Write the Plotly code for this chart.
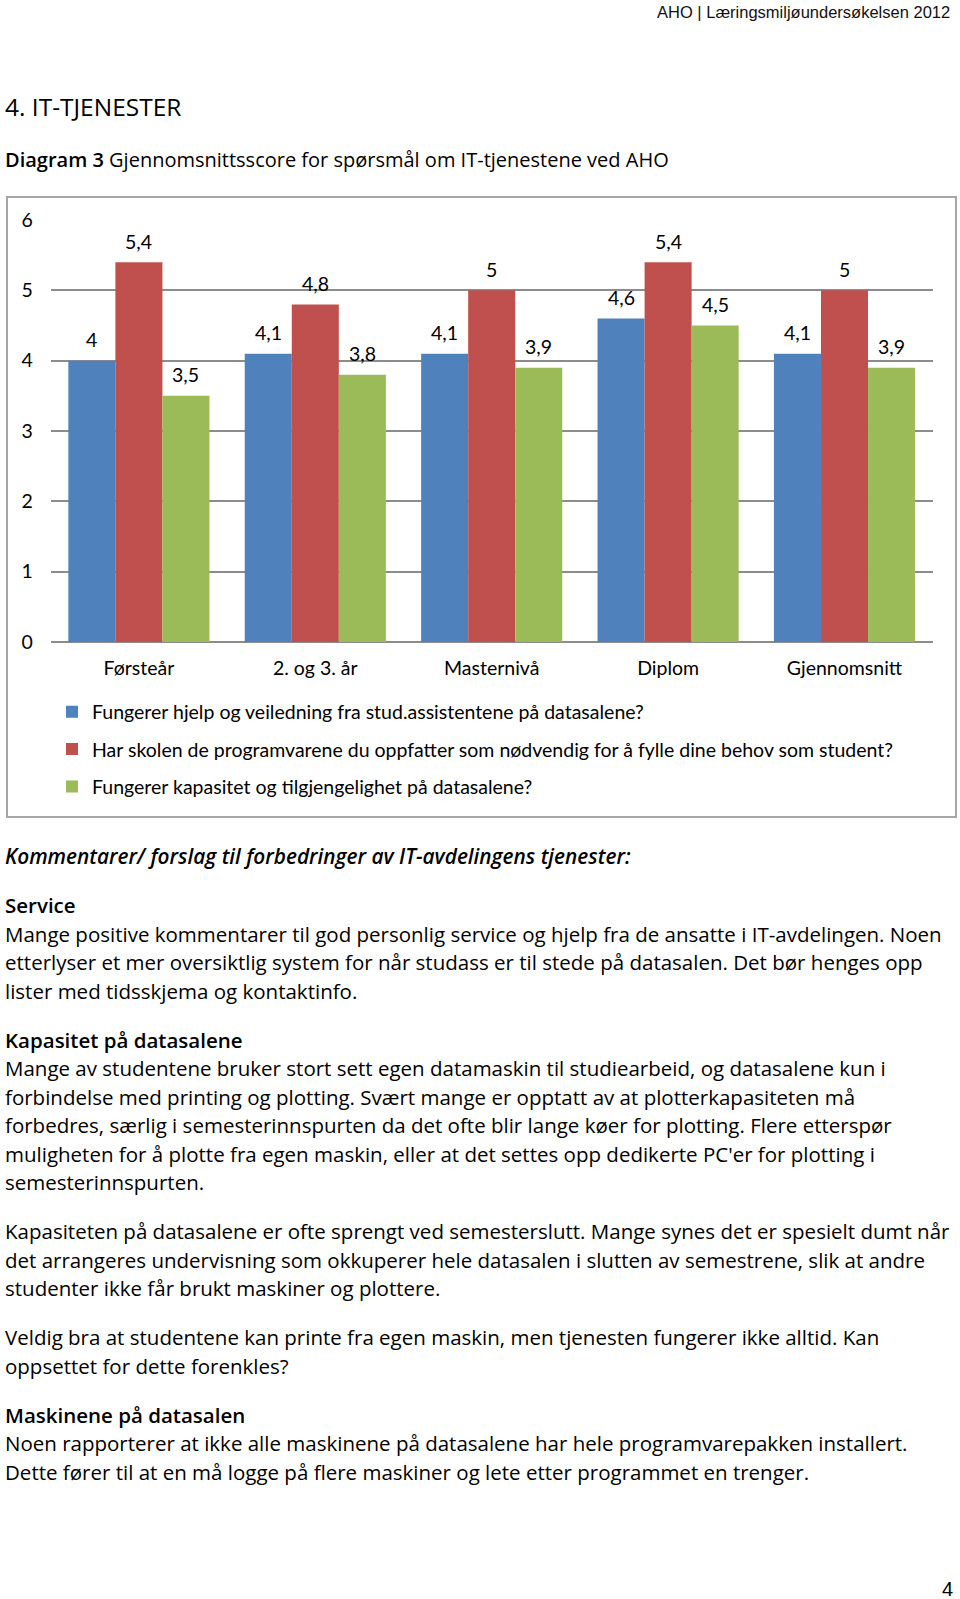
import plotly.graph_objects as go

W, H = 960, 1599

categories = ["Førsteår", "2. og 3. år", "Masternivå", "Diplom", "Gjennomsnitt"]
series_names = [
    "Fungerer hjelp og veiledning fra stud.assistentene på datasalene?",
    "Har skolen de programvarene du oppfatter som nødvendig for å fylle dine behov som student?",
    "Fungerer kapasitet og tilgjengelighet på datasalene?",
]
hjelp_values = [4.0, 4.1, 4.1, 4.6, 4.1]
programvare_values = [5.4, 4.8, 5.0, 5.4, 5.0]
kapasitet_values = [3.5, 3.8, 3.9, 4.5, 3.9]
y_ticks = [0, 1, 2, 3, 4, 5, 6]

header_text = "AHO | Læringsmiljøundersøkelsen 2012"
section_title = "4. IT-TJENESTER"
diagram_label = "<span style='font-weight:600'>Diagram 3</span> Gjennomsnittsscore for spørsmål om IT-tjenestene ved AHO"
comments_title = "Kommentarer/ forslag til forbedringer av IT-avdelingens tjenester:"
page_number = "4"

body_blocks = [
    ("h", "Service"),
    ("p", "Mange positive kommentarer til god personlig service og hjelp fra de ansatte i IT-avdelingen. Noen"),
    ("p", "etterlyser et mer oversiktlig system for når studass er til stede på datasalen. Det bør henges opp"),
    ("p", "lister med tidsskjema og kontaktinfo."),
    ("gap", ""),
    ("h", "Kapasitet på datasalene"),
    ("p", "Mange av studentene bruker stort sett egen datamaskin til studiearbeid, og datasalene kun i"),
    ("p", "forbindelse med printing og plotting. Svært mange er opptatt av at plotterkapasiteten må"),
    ("p", "forbedres, særlig i semesterinnspurten da det ofte blir lange køer for plotting. Flere etterspør"),
    ("p", "muligheten for å plotte fra egen maskin, eller at det settes opp dedikerte PC'er for plotting i"),
    ("p", "semesterinnspurten."),
    ("gap", ""),
    ("p", "Kapasiteten på datasalene er ofte sprengt ved semesterslutt. Mange synes det er spesielt dumt når"),
    ("p", "det arrangeres undervisning som okkuperer hele datasalen i slutten av semestrene, slik at andre"),
    ("p", "studenter ikke får brukt maskiner og plottere."),
    ("gap", ""),
    ("p", "Veldig bra at studentene kan printe fra egen maskin, men tjenesten fungerer ikke alltid. Kan"),
    ("p", "oppsettet for dette forenkles?"),
    ("gap", ""),
    ("h", "Maskinene på datasalen"),
    ("p", "Noen rapporterer at ikke alle maskinene på datasalene har hele programvarepakken installert."),
    ("p", "Dette fører til at en må logge på flere maskiner og lete etter programmet en trenger."),
]

colors = ["#4F81BD", "#C0504D", "#9BBB59"]
chart_font = "Lato"
body_font = "Open Sans"
chart_size = 19.5
body_size = 20.5


def px(x):
    return x / W


def py(y):
    return 1 - y / H


def fmt(v):
    s = f"{v:.1f}".replace(".", ",")
    return s[:-2] if s.endswith(",0") else s


fig = go.Figure()
all_values = [hjelp_values, programvare_values, kapasitet_values]
for name, vals, col in zip(series_names, all_values, colors):
    fig.add_trace(go.Bar(
        x=categories, y=vals, name=name, marker=dict(color=col, line=dict(width=0)),
        legendgroup=name, hoverinfo="skip",
    ))

annotations = []
bar_px = 47
for i, vals in enumerate(all_values):
    for c, v in zip(categories, vals):
        annotations.append(dict(
            x=c, y=v, xref="x", yref="y", text=fmt(v), showarrow=False,
            xshift=(i - 1) * bar_px, yshift=21, yanchor="middle",
            font=dict(family=chart_font, size=chart_size, color="#000"),
        ))

annotations.append(dict(x=px(952), y=py(12), xref="paper", yref="paper", text=header_text,
                        xanchor="right", yanchor="middle", showarrow=False,
                        font=dict(family="Liberation Sans", size=16.5, color="#111")))
annotations.append(dict(x=px(3), y=py(107), xref="paper", yref="paper", text=section_title,
                        xanchor="left", yanchor="middle", showarrow=False,
                        font=dict(family=body_font, size=24.5, color="#000")))
annotations.append(dict(x=px(3), y=py(160), xref="paper", yref="paper", text=diagram_label,
                        xanchor="left", yanchor="middle", showarrow=False,
                        font=dict(family=body_font, size=20, color="#000")))
annotations.append(dict(x=px(3), y=py(856), xref="paper", yref="paper", text="<i>" + comments_title + "</i>",
                        xanchor="left", yanchor="middle", showarrow=False,
                        font=dict(family=body_font, size=20.8, color="#000", weight=600)))
annotations.append(dict(x=px(955), y=py(1589), xref="paper", yref="paper", text=page_number,
                        xanchor="right", yanchor="middle", showarrow=False,
                        font=dict(family="Liberation Sans", size=20, color="#000")))

y = 905.0
line_h = 28.5
for kind, txt in body_blocks:
    if kind == "gap":
        y += 20.5
        continue
    if kind == "p" and y < 935:
        y = 933.5
    annotations.append(dict(x=px(3), y=py(y), xref="paper", yref="paper", text=txt,
                            xanchor="left", yanchor="middle", showarrow=False,
                            font=dict(family=body_font, size=body_size, color="#000",
                                      weight=600 if kind == "h" else 400)))
    y += line_h

fig.update_layout(
    width=W, height=H,
    margin=dict(l=0, r=0, t=0, b=0, autoexpand=False),
    paper_bgcolor="white", plot_bgcolor="white",
    barmode="group", bargap=0.2, bargroupgap=0,
    font=dict(family=chart_font, size=chart_size, color="#000"),
    xaxis=dict(domain=[px(50.7), px(932.7)], showgrid=False, showline=False, ticks="",
               automargin=False,
               tickfont=dict(family=chart_font, size=chart_size), ticklabelstandoff=12, fixedrange=True),
    yaxis=dict(domain=[py(642), py(220)], range=[0, 6], tickvals=y_ticks, showgrid=True,
               automargin=False,
               gridcolor="#8C8C8C", gridwidth=1.5, zeroline=True, zerolinecolor="#8C8C8C",
               zerolinewidth=1.5, showline=False, ticks="",
               tickfont=dict(family=chart_font, size=chart_size), ticklabelstandoff=17, fixedrange=True),
    legend=dict(x=px(52), y=py(692.5), xanchor="left", yanchor="top", orientation="v",
                font=dict(family=chart_font, size=chart_size, color="#000"), tracegroupgap=9,
                bgcolor="rgba(0,0,0,0)", itemclick=False, itemdoubleclick=False),
    showlegend=True,
    annotations=annotations,
    shapes=[dict(type="rect", xref="paper", yref="paper", x0=px(7), x1=px(956), y0=py(197), y1=py(817),
                 line=dict(color="#A6A6A6", width=2), fillcolor="rgba(0,0,0,0)", layer="below")],
)

fig.write_html("out.html", config={"displayModeBar": False},
               post_script="document.body.style.margin='0';document.body.style.overflow='hidden';")
